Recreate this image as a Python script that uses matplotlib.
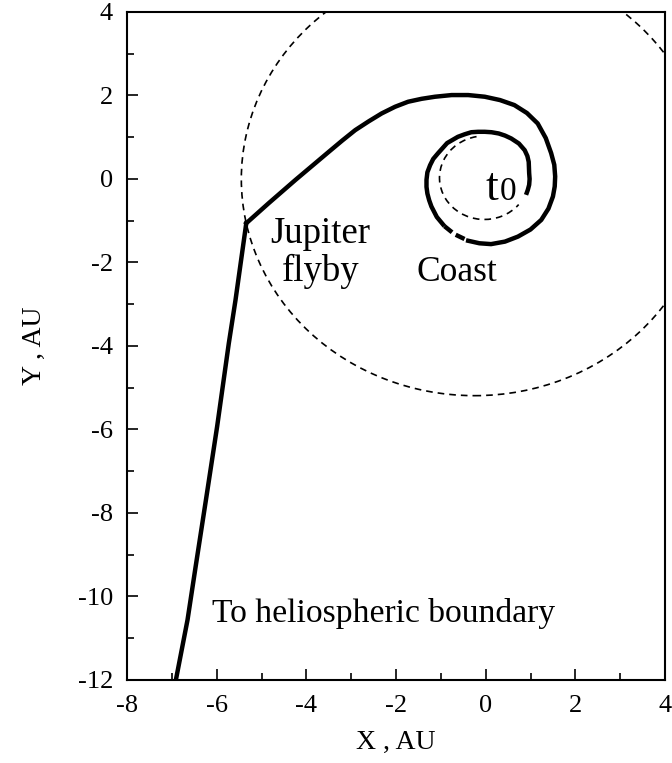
import numpy as np
import matplotlib
matplotlib.use('Agg')
import matplotlib.pyplot as plt
from matplotlib.patches import Ellipse, Arc
from matplotlib.ticker import MultipleLocator

plt.rcParams['font.family'] = ['Liberation Serif', 'DejaVu Serif']
plt.rcParams['axes.unicode_minus'] = False

# Spiral out from Earth (t0) until the coast arc
thrust1_x = [0.90, 0.94, 0.97, 0.98, 0.97, 0.96, 0.93, 0.87, 0.74, 0.57, 0.43,
             0.29, 0.13, -0.02, -0.17, -0.32, -0.47, -0.62, -0.86, -1.06,
             -1.17, -1.24, -1.30, -1.32, -1.32, -1.30, -1.26, -1.21, -1.09,
             -0.92]
thrust1_y = [-0.38, -0.26, -0.14, 0.00, 0.14, 0.41, 0.55, 0.69, 0.85, 0.97, 1.04,
             1.09, 1.12, 1.13, 1.13, 1.12, 1.07, 1.01, 0.86, 0.62,
             0.48, 0.33, 0.16, -0.02, -0.19, -0.35, -0.51, -0.66, -0.91,
             -1.13]

# Coast arc
coast_x = [-0.92, -0.70, -0.39]
coast_y = [-1.13, -1.32, -1.48]

# Second thrust arc up to the Jupiter flyby
thrust2_x = [-0.39, -0.14, 0.12, 0.43, 0.72, 1.00, 1.24, 1.40, 1.50, 1.54,
             1.55, 1.53, 1.46, 1.34, 1.16, 0.92, 0.64, 0.32, -0.02, -0.39,
             -0.76, -1.13, -1.43, -1.73, -2.02, -2.32, -2.61, -2.91, -3.20,
             -3.50, -4.24, -4.84, -5.34]
thrust2_y = [-1.48, -1.54, -1.56, -1.50, -1.38, -1.21, -0.98, -0.71, -0.42, -0.18,
             0.06, 0.34, 0.62, 0.98, 1.33, 1.58, 1.77, 1.89, 1.97, 2.01,
             2.01, 1.97, 1.92, 1.85, 1.73, 1.57, 1.38, 1.17, 0.92,
             0.65, -0.02, -0.58, -1.06]

# After the flyby, out towards the heliospheric boundary
escape_x = [-5.34, -5.58, -5.73, -5.99, -6.24, -6.47, -6.65, -6.91]
escape_y = [-1.06, -2.90, -3.94, -5.93, -7.69, -9.29, -10.56, -12.0]

# Planet orbits (AU)
jupiter_center = (-0.25, 0.0)
jupiter_a, jupiter_b = 5.2, 5.19
earth_center = (-0.03, 0.03)
earth_r = 1.0

fig = plt.figure(figsize=(6.72, 7.63), dpi=100)
ax = fig.add_axes([0.189, 0.1088, 0.8006, 0.8755])

ax.add_patch(Ellipse(jupiter_center, 2 * jupiter_a, 2 * jupiter_b, fill=False,
                     ls=(0, (4, 3)), lw=1.2, color='black'))
ax.add_patch(Arc(earth_center, 2 * earth_r, 2 * earth_r, theta1=100, theta2=320,
                 ls=(0, (4, 3)), lw=1.2, color='black'))

ax.plot(thrust1_x, thrust1_y, color='black', lw=3.2, solid_capstyle='butt',
        solid_joinstyle='round')
ax.plot(coast_x, coast_y, color='black', lw=3.2, ls=(0, (2.2, 1.0)))
ax.plot(thrust2_x, thrust2_y, color='black', lw=3.2, solid_joinstyle='round')
ax.plot(escape_x, escape_y, color='black', lw=3.2, solid_joinstyle='miter')

ax.set_xlim(-8, 4)
ax.set_ylim(-12, 4)

ax.text(-4.80, -1.53, 'Jupiter', fontsize=26.5, va='baseline', ha='left')
ax.text(-3.68, -2.45, 'flyby', fontsize=26.5, va='baseline', ha='center')
ax.text(-1.54, -2.45, 'Coast', fontsize=25.5, va='baseline', ha='left')
ax.text(0.0, -0.50, 't', fontsize=33, va='baseline', ha='left')
ax.text(0.31, -0.50, '0', fontsize=24, va='baseline', ha='left')
ax.text(-6.10, -10.61, 'To heliospheric boundary', fontsize=24.2,
        va='baseline', ha='left')

ax.xaxis.set_major_locator(MultipleLocator(2))
ax.xaxis.set_minor_locator(MultipleLocator(1))
ax.yaxis.set_major_locator(MultipleLocator(2))
ax.yaxis.set_minor_locator(MultipleLocator(1))
ax.tick_params(which='both', direction='in', top=False, right=False,
               width=1.2, labelsize=19)
ax.tick_params(which='major', length=8)
ax.tick_params(axis='x', which='major', pad=11)
ax.tick_params(axis='y', which='major', pad=10)
ax.tick_params(which='minor', length=5)
for s in ax.spines.values():
    s.set_linewidth(1.5)

ax.set_xlabel('X , AU', fontsize=20, labelpad=9)
ax.set_ylabel('Y , AU', fontsize=20, labelpad=22)

fig.savefig('out.png', dpi=100)
